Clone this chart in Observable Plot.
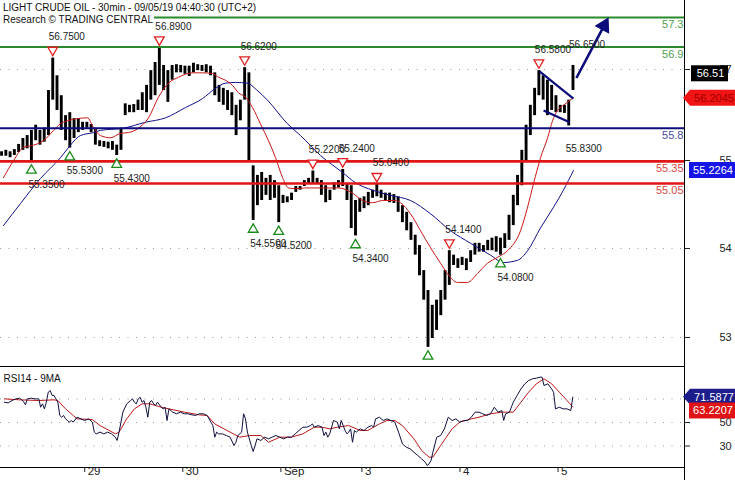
<!DOCTYPE html>
<html><head><meta charset="utf-8">
<script src="https://cdn.jsdelivr.net/npm/d3@7"></script>
<script src="https://cdn.jsdelivr.net/npm/@observablehq/plot@0.6"></script>
<style>
body{margin:0;background:#fff;}
#wrap{position:relative;width:735px;height:480px;overflow:hidden;font-family:"Liberation Sans",Arial,sans-serif;background:#fff;}
#title{position:absolute;left:0;top:2px;font-size:10px;line-height:12px;color:#111;}
#title span{background:#fff;padding:0 1px 0 3px;display:inline-block;}
#chart svg{display:block;}
</style></head><body>
<div id="wrap"><div id="chart"></div>
<div id="title"><span>LIGHT CRUDE OIL - 30min - 09/05/19 04:40:30 (UTC+2)</span><br><span>Research © TRADING CENTRAL</span></div></div>
<script>
// ---------- data ----------
const dayTickIndex = [40, 86, 132, 170, 216, 262];
const dayLabels = ["29", "30", "Sep", "3", "4", "5"];
const priceTickPos = [56.595, 55.362, 54.170, 52.964];
const priceTickLabels = ["57", "55", "54", "53"];
const rsiTickPos = [70, 50, 30];
const rsiTickLabels = ["70", "50", "30"];

const levelValues = [57.3, 56.9, 55.8, 55.35, 55.05];
const levelLabels = ["57.3", "56.9", "55.8", "55.35", "55.05"];
const levelKinds = ["resistance", "resistance", "pivot", "support", "support"];

// [bar, high, low]
const priceBars = [
[1,55.48,55.42],[3,55.50,55.42],[5,55.48,55.40],[7,55.51,55.43],[9,55.58,55.47],[11,55.66,55.50],[13,55.70,55.52],[15,55.77,55.35],[17,55.84,55.63],[19,55.77,55.57],[21,55.80,55.61],[23,56.31,55.70],[25,56.75,56.18],[27,56.51,56.04],[29,56.24,55.77],[31,55.97,55.63],[33,56.01,55.53],[35,55.93,55.66],[37,55.93,55.74],[39,55.88,55.77],[41,55.88,55.80],[43,55.85,55.74],[45,55.80,55.57],[47,55.63,55.55],[49,55.62,55.54],[51,55.61,55.52],[53,55.62,55.50],[55,55.57,55.43],[57,55.80,55.50],[59,56.13,55.97],[61,56.11,56.01],[63,56.12,56.01],[65,56.18,56.04],[67,56.28,56.04],[69,56.38,56.01],[71,56.58,56.18],[73,56.69,56.24],[75,56.89,56.38],[77,56.65,56.31],[79,56.58,56.15],[81,56.65,56.45],[83,56.66,56.55],[85,56.65,56.55],[87,56.64,56.53],[89,56.64,56.50],[91,56.68,56.55],[93,56.66,56.58],[95,56.65,56.57],[97,56.66,56.55],[99,56.64,56.51],[101,56.55,56.24],[103,56.38,56.15],[105,56.34,56.11],[107,56.31,56.04],[109,56.28,55.97],[111,56.11,55.70],[113,56.18,55.90],[115,56.62,56.18],[117,56.55,55.36],[119,55.29,54.55],[121,55.16,54.75],[123,55.20,54.82],[125,55.12,54.89],[127,55.16,54.82],[129,55.09,54.85],[131,55.02,54.52],[133,54.89,54.78],[135,54.87,54.79],[137,54.92,54.82],[139,55.01,54.93],[141,55.01,54.96],[143,55.09,55.01],[145,55.12,55.04],[147,55.22,55.05],[149,55.12,55.04],[151,55.09,54.89],[153,55.02,54.79],[155,54.96,54.82],[157,55.06,54.96],[159,55.09,54.99],[161,55.24,55.01],[163,55.05,54.82],[165,55.02,54.44],[167,54.82,54.34],[169,54.85,54.66],[171,54.87,54.71],[173,54.93,54.75],[175,54.96,54.85],[177,55.04,54.87],[179,54.96,54.85],[181,54.92,54.82],[183,54.92,54.79],[185,54.90,54.78],[187,54.87,54.66],[189,54.75,54.52],[191,54.66,54.41],[193,54.52,54.28],[195,54.35,54.08],[197,54.21,53.80],[199,53.87,53.47],[201,53.60,52.83],[203,53.40,52.95],[205,53.47,53.06],[207,53.60,53.26],[209,53.87,53.47],[211,54.14,53.67],[213,54.08,53.94],[215,54.03,53.90],[217,54.05,53.94],[219,54.03,53.87],[221,54.14,53.98],[223,54.24,54.08],[225,54.24,54.12],[227,54.21,54.12],[229,54.28,54.14],[231,54.31,54.14],[233,54.33,54.12],[235,54.31,54.08],[237,54.37,54.17],[239,54.62,54.28],[241,54.89,54.48],[243,55.16,54.75],[245,55.50,55.02],[247,55.84,55.36],[249,56.11,55.70],[251,56.34,55.97],[253,56.58,56.24],[255,56.51,56.18],[257,56.45,55.97],[259,56.38,56.04],[261,56.24,56.01],[263,56.11,56.01],[265,56.11,56.00],[267,56.18,55.83],[269,56.65,56.31]
];

// fast (red) and slow (blue) moving averages: [bar, value]
const maFast = [[1.9,55.13],[6.6,55.36],[11.3,55.54],[16,55.57],[20.7,55.63],[25.4,55.77],[28.6,55.86],[31.9,55.90],[36.6,55.93],[41.3,55.94],[44.1,55.81],[47.4,55.70],[52.1,55.67],[56.8,55.73],[60.5,55.74],[65.2,55.80],[69.9,55.94],[74.6,56.22],[79.3,56.41],[84,56.49],[90.5,56.55],[95.2,56.55],[99.9,56.54],[102.7,56.49],[106,56.45],[109.3,56.38],[112.1,56.28],[115.4,56.22],[118.7,56.08],[122.4,55.86],[126.2,55.63],[129.5,55.40],[132.8,55.13],[135.6,54.99],[138.9,54.98],[143.5,54.99],[151.5,54.99],[159,54.99],[165.6,54.92],[170.3,54.82],[175,54.79],[179.7,54.82],[185.8,54.82],[188.1,54.79],[192.8,54.64],[197.5,54.41],[202.2,54.18],[206.9,53.97],[210.1,53.83],[214.8,53.71],[219.5,53.71],[224.2,53.83],[228.9,53.97],[233.6,54.05],[238.3,54.14],[244.4,54.41],[247.7,54.73],[250.5,55.05],[253.8,55.40],[257.1,55.67],[259.4,55.90],[261.7,56.04],[264.5,56.11],[268.8,56.2045]];
const maSlow = [[1.9,54.48],[9.9,54.78],[19.3,55.12],[28.6,55.40],[31.9,55.52],[38,55.70],[44.1,55.74],[47.4,55.77],[58.2,55.80],[68.5,55.88],[77.9,55.94],[87.3,56.08],[95.2,56.20],[101.3,56.34],[106,56.41],[110.7,56.42],[116.3,56.41],[120.6,56.32],[125.7,56.18],[135.1,55.86],[141.2,55.70],[150.6,55.43],[160.9,55.20],[167,55.06],[175,54.96],[183.4,54.89],[192.8,54.82],[202.2,54.64],[211.6,54.41],[221,54.24],[230.3,54.08],[236.4,53.98],[243,54.01],[247.7,54.14],[253.8,54.45],[259.9,54.73],[264.5,54.96],[269.2,55.2264]];

// swing highs / lows [bar, price]
const swingHighs = [[25,56.75],[75,56.89],[115,56.62],[147,55.22],[161,55.24],[177,55.04],[211,54.14],[253,56.58]];
const swingHighLabelOnly = [[269,56.65]];
const swingLows = [[15,55.35],[33,55.53],[55,55.43],[119,54.55],[131,54.52],[167,54.34],[235,54.08]];
const swingLowMarkOnly = [[201,52.83]];
const swingLowLabelOnly = [[267,55.83]];

// flag pattern and target arrow [bar1, price1, bar2, price2]
const flagLines = [[253.3,56.57,269.2,56.20],[255.2,56.04,267.4,55.88]];
const targetArrow = [[270.6,56.48,283.6,57.19]];

const lastPrice = 56.51, fastMaLast = 56.2045, slowMaLast = 55.2264;

// RSI14 and its 9MA: [bar, value]
const rsi14 = [[2.3,67.3],[4.1,66.7],[5.9,68.7],[7.7,70.1],[9.5,70.7],[11.3,67.9],[12.2,65.0],[13.1,70.1],[14.9,70.7],[16.7,70.1],[18.5,70.1],[19.3,63.0],[20.2,65.9],[21.1,61.6],[22.0,67.3],[22.9,75.8],[23.8,77.2],[24.7,73.0],[25.6,73.0],[26.5,70.1],[27.4,67.3],[28.3,56.0],[29.2,54.5],[30.1,56.0],[31.0,53.1],[31.9,51.7],[32.8,50.3],[33.7,51.7],[34.6,50.3],[36.4,54.5],[38.2,53.1],[40.0,51.7],[41.8,53.1],[43.6,50.3],[44.5,41.8],[45.4,40.3],[47.2,41.8],[49.0,40.3],[50.8,41.8],[52.6,40.3],[54.4,37.5],[55.2,34.7],[56.1,41.8],[57.9,58.8],[59.7,65.9],[61.5,68.7],[62.4,70.1],[63.3,67.3],[64.2,65.9],[65.1,70.1],[66.0,71.5],[66.9,67.3],[67.8,68.7],[68.7,63.0],[69.6,54.5],[70.5,67.3],[71.4,68.7],[72.3,65.9],[73.2,64.5],[74.1,67.3],[75.9,63.0],[76.8,61.6],[77.7,63.0],[78.6,51.7],[79.5,61.6],[81.3,58.8],[83.1,57.4],[84.9,58.8],[86.7,57.4],[88.5,57.4],[90.3,56.5],[92.0,56.0],[93.8,57.4],[95.6,57.4],[97.4,56.0],[99.2,50.3],[100.1,47.4],[101.0,37.5],[101.9,41.8],[102.8,40.3],[104.6,40.3],[106.4,38.9],[108.2,37.5],[110.0,30.4],[110.9,33.2],[111.8,38.9],[113.6,41.8],[114.5,57.4],[115.4,53.1],[116.3,41.8],[117.2,36.1],[118.1,30.4],[119.0,25.3],[119.9,30.4],[120.8,36.1],[122.6,34.7],[124.4,37.5],[126.2,36.1],[127.9,37.5],[129.7,38.9],[131.5,37.5],[133.3,36.1],[135.1,37.5],[136.9,37.5],[138.7,40.3],[140.5,43.2],[142.3,46.0],[144.1,46.0],[145.9,47.4],[146.8,48.8],[147.7,46.0],[149.5,47.4],[151.3,46.0],[152.2,38.9],[153.1,41.8],[154.0,37.5],[154.9,40.3],[156.7,51.7],[158.5,50.3],[159.4,44.6],[160.3,51.7],[162.1,43.2],[163.0,40.3],[163.8,41.8],[164.7,44.6],[165.6,33.2],[166.5,43.2],[167.4,41.8],[169.2,44.6],[171.0,43.2],[172.8,46.0],[174.6,47.4],[175.5,46.0],[176.4,53.1],[178.2,54.5],[180.0,51.7],[181.8,53.1],[183.6,51.7],[185.4,50.3],[187.2,41.8],[189.0,31.8],[190.8,29.0],[192.6,27.6],[194.4,24.7],[196.2,21.9],[198.0,19.1],[199.7,16.2],[200.6,13.4],[201.5,14.8],[202.4,17.6],[203.3,24.7],[205.1,37.5],[206.9,38.9],[208.7,44.6],[210.5,54.5],[212.3,51.7],[214.1,53.1],[215.9,50.3],[217.7,51.7],[219.5,51.7],[221.3,54.5],[223.1,58.8],[224.9,58.8],[226.7,57.4],[228.5,56.0],[230.3,57.4],[232.1,63.0],[233.9,58.8],[235.6,60.2],[236.5,51.7],[237.4,57.4],[239.2,58.8],[241.0,67.3],[242.8,73.0],[244.6,78.6],[246.4,82.9],[248.2,85.7],[250.0,87.2],[251.8,87.7],[253.6,88.6],[254.5,88.6],[255.4,81.5],[257.2,82.9],[259.0,78.6],[259.9,75.8],[260.8,61.6],[262.6,63.0],[264.4,61.6],[266.2,61.6],[268.0,60.2],[268.9,71.5877]];
const rsiMa9 = [[2.3,70.1],[9.5,69.3],[18.5,68.7],[25.6,69.3],[27.4,68.7],[31.0,61.6],[34.6,56.0],[36.4,53.1],[43.6,52.5],[47.2,47.4],[54.4,40.3],[56.1,41.8],[59.7,53.1],[63.3,61.6],[66.9,65.9],[70.5,65.9],[75.9,63.0],[79.5,61.6],[86.7,58.8],[93.8,56.5],[97.4,56.0],[101.0,48.8],[108.2,41.8],[112.7,37.5],[117.2,38.9],[122.6,38.9],[126.2,33.2],[131.5,37.5],[136.9,37.5],[142.3,40.3],[147.7,46.0],[151.3,46.0],[154.9,44.6],[158.5,46.0],[163.8,47.4],[169.2,43.2],[172.8,43.2],[178.2,48.8],[181.8,51.7],[185.4,51.7],[189.0,47.4],[194.4,36.1],[198.0,26.2],[201.5,20.5],[203.3,20.5],[206.9,30.4],[212.3,44.6],[215.9,50.3],[221.3,53.1],[224.9,54.5],[230.3,57.4],[235.6,58.8],[241.0,58.8],[244.6,67.3],[248.2,75.8],[251.8,82.9],[255.4,87.2],[259.0,82.9],[262.6,75.8],[266.2,68.7],[268.9,63.2207]];
const rsiLast = 71.5877, rsiMaLast = 63.2207;

// ---------- styles ----------
const FONT = "'Liberation Sans', Arial, sans-serif";
const levelStyle = {
  resistance: {stroke: "#2b8a2b", text: "#4f9f4f", width: 2},
  pivot: {stroke: "#0c0c7a", text: "#4a4aa0", width: 2},
  support: {stroke: "#e01515", text: "#d84848", width: 2.6}
};
const xDomain = [0.5, 321.3];
const priceTickMap = new Map(d3.zip(priceTickPos, priceTickLabels));
const rsiTickMap = new Map(d3.zip(rsiTickPos, rsiTickLabels));
const levels = d3.zip(levelValues, levelLabels, levelKinds);
const X = d => d[0], Y = d => d[1];

const mainMarks = [
  Plot.ruleY(priceTickPos, {stroke: "#9a9a9a", strokeDasharray: "1,7.5"}),
  Plot.ruleX(priceBars, {x: X, y1: d => d[2], y2: d => d[1], stroke: "#000", strokeWidth: 2.9}),
  Plot.line(maSlow, {x: X, y: Y, stroke: "#10108a", strokeWidth: 1, curve: "monotone-x"}),
  Plot.line(maFast, {x: X, y: Y, stroke: "#c81818", strokeWidth: 1, curve: "monotone-x"})
];
for (const kind of ["resistance", "pivot", "support"]) {
  const s = levelStyle[kind];
  const data = levels.filter(d => d[2] === kind);
  mainMarks.push(Plot.ruleY(data, {y: d => d[0], stroke: s.stroke, strokeWidth: s.width}));
  mainMarks.push(Plot.text(data, {y: d => d[0], text: d => d[1], frameAnchor: "right", textAnchor: "end", dx: -1, dy: 7, fill: s.text, fontSize: 11}));
}
mainMarks.push(
  Plot.link(flagLines, {x1: d => d[0], y1: d => d[1], x2: d => d[2], y2: d => d[3], stroke: "#0c0c7a", strokeWidth: 2.2}),
  Plot.link(targetArrow, {x1: d => d[0], y1: d => d[1], x2: d => d[2], y2: d => d[3], stroke: "#0c0c7a", strokeWidth: 2.6}),
  Plot.dot(targetArrow, {x: d => d[2], y: d => d[3], symbol: "triangle", r: 5.2, rotate: 28, fill: "#0c0c7a", stroke: "#0c0c7a"}),
  Plot.dot(swingHighs, {x: X, y: Y, dy: -8, symbol: "triangle", rotate: 180, r: 3.6, stroke: "#e02020", fill: "white", strokeWidth: 1.3}),
  Plot.dot(swingLows.concat(swingLowMarkOnly), {x: X, y: Y, dy: 9, symbol: "triangle", r: 3.6, stroke: "#1a8a1a", fill: "white", strokeWidth: 1.3}),
  Plot.text(swingHighs.concat(swingHighLabelOnly), {x: X, y: Y, text: d => d[1].toFixed(4), dy: -21, dx: -4, textAnchor: "start", fill: "#222", fontSize: 10}),
  Plot.text(swingLows.concat(swingLowLabelOnly), {x: X, y: Y, text: d => d[1].toFixed(4), dy: 23, dx: -3, textAnchor: "start", fill: "#222", fontSize: 10}),
  Plot.ruleX([xDomain[1]], {stroke: "#000"}),
  Plot.axisY({anchor: "right", ticks: priceTickPos, tickFormat: d => priceTickMap.get(d), tickSize: 5, tickPadding: 30, fontSize: 11, label: null})
);

const main = Plot.plot({
  width: 735, height: 366, marginLeft: 0, marginRight: 51, marginTop: 0, marginBottom: 0,
  x: {domain: xDomain, axis: null},
  y: {domain: [52.571, 57.530], axis: null},
  style: {fontFamily: FONT, fontSize: "10px", background: "transparent", overflow: "visible", color: "#222"},
  marks: mainMarks
});

const rsiDomain = [11.70, 97.66];
const rsiPlot = Plot.plot({
  width: 735, height: 114, marginLeft: 0, marginRight: 51, marginTop: 0, marginBottom: 13,
  x: {domain: xDomain, axis: null},
  y: {domain: rsiDomain, axis: null},
  style: {fontFamily: FONT, fontSize: "10px", background: "transparent", overflow: "visible", color: "#222"},
  marks: [
    Plot.ruleY(rsiTickPos, {stroke: "#9a9a9a", strokeDasharray: "1,7.5"}),
    Plot.line(rsiMa9, {x: X, y: Y, stroke: "#b81818", strokeWidth: 1}),
    Plot.line(rsi14, {x: X, y: Y, stroke: "#101040", strokeWidth: 1}),
    Plot.ruleY([rsiDomain[1]], {stroke: "#000"}),
    Plot.ruleY([rsiDomain[0]], {stroke: "#000"}),
    Plot.ruleX([xDomain[1]], {stroke: "#000", insetBottom: -13}),
    Plot.axisY({anchor: "right", ticks: rsiTickPos, tickFormat: d => rsiTickMap.get(d), tickSize: 5, tickPadding: 30, fontSize: 11, label: null}),
    Plot.axisX({ticks: dayTickIndex, tickSize: 5, tickFormat: () => "", label: null}),
    Plot.text(d3.zip(dayTickIndex, dayLabels), {x: X, text: Y, frameAnchor: "bottom", dy: 7, dx: 3, textAnchor: "start", fontSize: 11.5, fill: "#222"}),
    Plot.text(["RSI14 - 9MA"], {frameAnchor: "top-left", dx: 3, dy: 8, textAnchor: "start", fontSize: 10, fill: "#111"})
  ]
});

document.getElementById("chart").append(main, rsiPlot);

// value tags on the right edge, placed through the plots' own y scales
function tag(svg, scale, value, label, bg, fg, shape, shift) {
  const yc = scale.apply(value) + (shift || 0);
  const g = d3.select(svg).append("g").attr("font-family", FONT).attr("font-size", 11);
  if (shape === "arrow") {
    g.append("path").attr("d", `M683,${yc} L690,${yc - 8} L735,${yc - 8} L735,${yc + 8} L690,${yc + 8} Z`).attr("fill", bg);
    g.append("text").attr("x", 714).attr("y", yc).attr("dy", "0.36em").attr("text-anchor", "middle").attr("fill", fg).text(label);
  } else {
    g.append("rect").attr("x", shape[0]).attr("y", yc - 8).attr("width", shape[1] - shape[0]).attr("height", 16).attr("fill", bg);
    g.append("text").attr("x", (shape[0] + shape[1]) / 2 + 1).attr("y", yc).attr("dy", "0.36em").attr("text-anchor", "middle").attr("fill", fg).text(label);
  }
}
const ym = main.scale("y"), yr = rsiPlot.scale("y");
tag(main, ym, lastPrice, lastPrice.toFixed(2), "#000", "#fff", [691, 728], -2);
tag(main, ym, fastMaLast, fastMaLast.toFixed(4), "#f01414", "#a00000", "arrow");
tag(main, ym, slowMaLast, slowMaLast.toFixed(4), "#1414e6", "#fff", [689, 735]);
tag(rsiPlot, yr, rsiLast, rsiLast.toFixed(4), "#1c1c8a", "#fff", "arrow");
tag(rsiPlot, yr, rsiMaLast, rsiMaLast.toFixed(4), "#e01414", "#fff", [689, 735], 4);
</script>
</body></html>
